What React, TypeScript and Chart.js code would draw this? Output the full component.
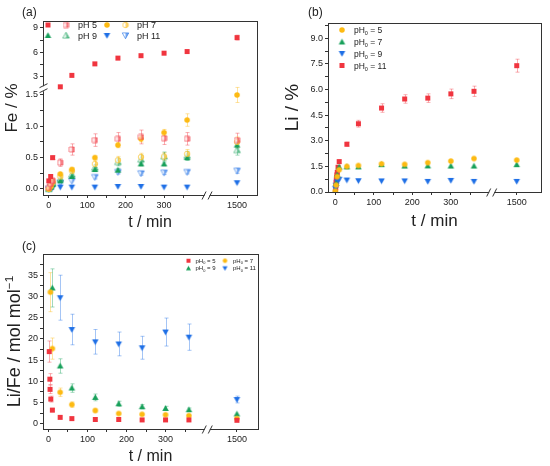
import React, { useEffect, useRef } from 'react';
import { Chart, ChartConfiguration, registerables } from 'chart.js';

Chart.register(...registerables);

const FONT = "'Liberation Sans', Arial, sans-serif";
Chart.defaults.font.family = FONT;
Chart.defaults.color = '#222';

const AXIS = '#333';
const RED = '#F0353F';
const YELLOW = '#FDBA12';
const GREEN = '#17A05A';
const BLUE = '#1E6FE6';
const errOf = (c: string) => c + '66';

// ---------- shared axis ticks ----------
const timeTicks = [0, 100, 200, 300, 1500];
const timeMinor = [50, 150, 250, 350];

// ---------- (a) Fe / % ----------
const feTime = [0, 5, 10, 30, 60, 120, 180, 240, 300, 360, 1500];
const fePH5 = [0.13, 0.2, 0.5, 1.8, 3.2, 4.6, 5.3, 5.6, 5.9, 6.1, 7.8];
const fePH5Err = [0.01, 0.02, 0.03, 0.1, 0.1, 0.15, 0.15, 0.15, 0.15, 0.15, 0.3];
const fePH5Half = [0.02, 0.08, 0.13, 0.42, 0.63, 0.78, 0.8, 0.83, 0.81, 0.8, 0.78];
const fePH5HalfErr = [0.01, 0.02, 0.03, 0.06, 0.09, 0.1, 0.1, 0.11, 0.1, 0.1, 0.11];
const fePH7 = [0.0, 0.05, 0.12, 0.24, 0.31, 0.5, 0.7, 0.8, 0.9, 1.1, 1.5];
const fePH7Err = [0, 0.01, 0.02, 0.02, 0.03, 0.03, 0.04, 0.05, 0.05, 0.1, 0.12];
const fePH7Half = [0.0, 0.04, 0.1, 0.2, 0.29, 0.4, 0.46, 0.51, 0.52, 0.56, 0.75];
const fePH7HalfErr = [0, 0.01, 0.02, 0.03, 0.04, 0.05, 0.06, 0.06, 0.06, 0.07, 0.08];
const fePH9 = [0.0, 0.03, 0.07, 0.13, 0.2, 0.31, 0.3, 0.4, 0.4, 0.5, 0.7];
const fePH9Err = [0, 0.01, 0.01, 0.02, 0.02, 0.03, 0.03, 0.03, 0.03, 0.04, 0.05];
const fePH9Half = [0.0, 0.04, 0.09, 0.16, 0.23, 0.34, 0.43, 0.47, 0.52, 0.53, 0.62];
const fePH9HalfErr = [0, 0.01, 0.02, 0.03, 0.04, 0.05, 0.06, 0.07, 0.07, 0.07, 0.08];
const fePH11 = [0.0, 0.01, 0.02, 0.03, 0.03, 0.03, 0.04, 0.04, 0.03, 0.03, 0.1];
const fePH11Err = [0, 0, 0, 0, 0, 0, 0, 0, 0, 0, 0.01];
const fePH11Half = [0.0, 0.03, 0.05, 0.1, 0.13, 0.19, 0.27, 0.25, 0.26, 0.27, 0.29];
const fePH11HalfErr = [0, 0.01, 0.01, 0.02, 0.02, 0.03, 0.03, 0.03, 0.03, 0.03, 0.04];
const feTicks = [0, 0.5, 1.0, 1.5, 3, 6, 9];
const feMinor = [0.25, 0.75, 1.25, 4.5, 7.5];

// ---------- (b) Li / % ----------
const liTimeFast = [0, 1, 1.5, 2, 2.5, 3, 4, 5, 7, 10, 30, 60, 120, 180, 240, 300, 360, 1500];
const liPH11 = [0, 0.25, 0.4, 0.55, 0.7, 0.85, 1.0, 1.15, 1.45, 1.78, 2.8, 4.0, 4.92, 5.45, 5.5, 5.75, 5.9, 7.4];
const liPH11Err = [0, 0.02, 0.03, 0.04, 0.05, 0.05, 0.06, 0.07, 0.08, 0.1, 0.12, 0.2, 0.25, 0.25, 0.25, 0.28, 0.3, 0.38];
const liTime = [0, 2, 5, 10, 30, 60, 120, 180, 240, 300, 360, 1500];
const liPH5 = [0.05, 0.4, 0.9, 1.3, 1.5, 1.55, 1.65, 1.62, 1.72, 1.81, 1.96, 1.87];
const liPH5Err = [0, 0.02, 0.04, 0.05, 0.05, 0.05, 0.06, 0.06, 0.06, 0.06, 0.07, 0.07];
const liPH7 = [0.05, 0.5, 1.0, 1.46, 1.47, 1.47, 1.6, 1.52, 1.53, 1.52, 1.52, 1.6];
const liPH7Err = [0, 0.02, 0.04, 0.05, 0.05, 0.05, 0.06, 0.06, 0.06, 0.06, 0.06, 0.07];
const liPH9 = [0.2, 0.4, 0.6, 0.75, 0.7, 0.66, 0.65, 0.65, 0.62, 0.68, 0.62, 0.62];
const liPH9Err = [0, 0.02, 0.03, 0.03, 0.03, 0.03, 0.03, 0.03, 0.03, 0.03, 0.03, 0.03];
const liTicks = [0, 1.5, 3.0, 4.5, 6.0, 7.5, 9.0];
const liMinor = [0.75, 2.25, 3.75, 5.25, 6.75, 8.25, 9.75];

// ---------- (c) Li/Fe ratio ----------
const ratioTime5 = [2, 3.5, 4, 6, 10, 30, 60, 120, 180, 240, 300, 360, 1500];
const ratioPH5 = [17, 10.5, 8.1, 5.8, 3.2, 1.5, 1.2, 1.0, 1.0, 0.9, 0.9, 0.9, 0.8];
const ratioPH5Err = [2.5, 1.3, 1.0, 0.7, 0.4, 0.2, 0.15, 0.1, 0.1, 0.1, 0.1, 0.1, 0.1];
const ratioTime7 = [5, 10, 30, 60, 120, 180, 240, 300, 360, 1500];
const ratioPH7 = [31, 17.7, 7.4, 4.5, 3.1, 2.4, 2.2, 2.1, 1.9, 1.2];
const ratioPH7Err = [4.6, 2.5, 1.0, 0.6, 0.4, 0.3, 0.3, 0.3, 0.25, 0.2];
const ratioTime9 = [10, 30, 60, 120, 180, 240, 300, 360, 1500];
const ratioPH9 = [32, 13.6, 8.4, 6.2, 4.7, 4.0, 3.6, 3.3, 2.3];
const ratioPH9Err = [4.5, 1.7, 1.0, 0.8, 0.6, 0.5, 0.5, 0.4, 0.3];
const ratioTime11 = [30, 60, 120, 180, 240, 300, 360, 1500];
const ratioPH11 = [29.7, 22.2, 19.3, 18.8, 17.9, 21.6, 20.4, 5.7];
const ratioPH11Err = [5.3, 3.6, 2.9, 2.8, 2.7, 3.3, 3.1, 0.8];
const ratioTicks = [0, 5, 10, 15, 20, 25, 30, 35];
const ratioMinor = [2.5, 7.5, 12.5, 17.5, 22.5, 27.5, 32.5, 37.5];

// ---------- markers ----------
type Shape = 'square' | 'circle' | 'up' | 'down';
function marker(shape: Shape, color: string, size: number, half = false) {
  const W = Math.ceil(size) + 2;
  const c = document.createElement('canvas');
  c.width = W;
  c.height = W;
  const g = c.getContext('2d')!;
  const m = W / 2;
  const h = size / 2;
  const path = () => {
    g.beginPath();
    if (shape === 'square') g.rect(m - h, m - h, size, size);
    else if (shape === 'circle') g.arc(m, m, h, 0, Math.PI * 2);
    else if (shape === 'up') {
      g.moveTo(m, m - h);
      g.lineTo(m + h, m + h * 0.8);
      g.lineTo(m - h, m + h * 0.8);
      g.closePath();
    } else {
      g.moveTo(m, m + h);
      g.lineTo(m + h, m - h * 0.8);
      g.lineTo(m - h, m - h * 0.8);
      g.closePath();
    }
  };
  if (!half) {
    path();
    g.fillStyle = color;
    g.fill();
  } else {
    g.globalAlpha = 0.6;
    path();
    g.fillStyle = '#fff';
    g.fill();
    g.save();
    path();
    g.clip();
    g.fillStyle = color;
    g.fillRect(m, 0, W, W);
    g.restore();
    path();
    g.strokeStyle = color;
    g.lineWidth = 1;
    g.stroke();
  }
  return c;
}

const mk = {
  sq: marker('square', RED, 5),
  sqH: marker('square', RED, 5, true),
  ci: marker('circle', YELLOW, 5.5),
  ciH: marker('circle', YELLOW, 5.5, true),
  up: marker('up', GREEN, 6.5),
  upH: marker('up', GREEN, 6.5, true),
  dn: marker('down', BLUE, 6.5),
  dnH: marker('down', BLUE, 6.5, true),
  sqS: marker('square', RED, 4),
  ciS: marker('circle', YELLOW, 4.5),
  upS: marker('up', GREEN, 5),
  dnS: marker('down', BLUE, 5),
};

// ---------- broken axis helpers ----------
const breakX = (at1500: number) => (t: number) => (t > 1000 ? at1500 + (t - 1500) * 0.1 : t);
const feY = (v: number) => (v <= 1.5 ? v : 2.572 - (9 - v) * 0.1308);
const feSeg = (v: number) => (v <= 1.5 ? 1 : 0.1308);
const same = (v: number) => v;
const one = () => 1;

function series(ts: number[], vs: number[], es: number[], img: HTMLCanvasElement, errColor: string,
  fx: (t: number) => number, fy = same, fs: (v: number) => number = one) {
  return {
    data: ts.map((t, i) => ({ x: fx(t), y: fy(vs[i]), e: es[i], s: fs(vs[i]) })),
    pointStyle: img,
    pointRadius: 3.5,
    showLine: false,
    errColor,
  };
}

type Part = { t: string; sub?: boolean; sup?: boolean };
type LegendRow = { marks: { img: HTMLCanvasElement; x: number }[]; tx: number; y: number; text: Part[] };
type Deco = {
  label: string; labelX: number; labelY: number;
  yTitle: Part[]; yTitleSize: number; yTitleX: number;
  xTitle: Part[]; xTitleSize: number; xTitleY: number;
  legend: LegendRow[]; legendSize: number;
  xBreak: number; yBreak?: number;
};

function drawParts(ctx: CanvasRenderingContext2D, parts: Part[], x: number, y: number, size: number, center: boolean) {
  const sz = (p: Part) => (p.sub || p.sup ? size * 0.65 : size);
  const widths = parts.map((p) => {
    ctx.font = `${sz(p)}px ${FONT}`;
    return ctx.measureText(p.t).width;
  });
  let cx = center ? x - widths.reduce((a, b) => a + b, 0) / 2 : x;
  parts.forEach((p, i) => {
    ctx.font = `${sz(p)}px ${FONT}`;
    const dy = p.sub ? size * 0.25 : p.sup ? -size * 0.4 : 0;
    ctx.fillText(p.t, cx, y + dy);
    cx += widths[i];
  });
}

function decoPlugin(d: Deco) {
  return {
    id: 'deco',
    beforeDatasetsDraw(chart: any) {
      const { ctx, chartArea: a } = chart;
      ctx.save();
      ctx.strokeStyle = AXIS;
      ctx.lineWidth = 1;
      const l = Math.round(a.left) + 0.5;
      const t = Math.round(a.top) + 0.5;
      ctx.strokeRect(l, t, Math.round(a.right) - Math.round(a.left), Math.round(a.bottom) - Math.round(a.top));
      const ys = chart.scales.y;
      chart.data.datasets.forEach((ds: any, di: number) => {
        const meta = chart.getDatasetMeta(di);
        ctx.strokeStyle = ds.errColor;
        ds.data.forEach((p: any, i: number) => {
          if (!p.e) return;
          const el = meta.data[i];
          const x = Math.round(el.x) + 0.5;
          const y1 = ys.getPixelForValue(p.y + p.e * p.s);
          const y2 = ys.getPixelForValue(p.y - p.e * p.s);
          if (Math.abs(y2 - y1) < 3) return;
          ctx.beginPath();
          ctx.moveTo(x, y1);
          ctx.lineTo(x, y2);
          ctx.moveTo(x - 2, y1);
          ctx.lineTo(x + 2, y1);
          ctx.moveTo(x - 2, y2);
          ctx.lineTo(x + 2, y2);
          ctx.stroke();
        });
      });
      ctx.restore();
    },
    afterDraw(chart: any) {
      const { ctx, chartArea: a } = chart;
      ctx.save();
      // axis breaks
      const bx = chart.scales.x.getPixelForValue(d.xBreak);
      const by = Math.round(a.bottom) + 0.5;
      ctx.fillStyle = '#fff';
      ctx.fillRect(bx - 2.5, by - 2, 5, 4);
      ctx.strokeStyle = AXIS;
      ctx.lineWidth = 1;
      ctx.beginPath();
      ctx.moveTo(bx - 5, by + 4);
      ctx.lineTo(bx - 1, by - 4);
      ctx.moveTo(bx + 1, by + 4);
      ctx.lineTo(bx + 5, by - 4);
      ctx.stroke();
      if (d.yBreak !== undefined) {
        const py = chart.scales.y.getPixelForValue(d.yBreak);
        const lx = Math.round(a.left) + 0.5;
        ctx.fillRect(lx - 2, py - 2.5, 4, 5);
        ctx.beginPath();
        ctx.moveTo(lx - 4, py - 1);
        ctx.lineTo(lx + 4, py - 5);
        ctx.moveTo(lx - 4, py + 4);
        ctx.lineTo(lx + 4, py);
        ctx.stroke();
      }
      ctx.fillStyle = '#222';
      ctx.textBaseline = 'alphabetic';
      // panel label
      ctx.font = `12px ${FONT}`;
      ctx.fillText(d.label, d.labelX, d.labelY);
      // axis titles
      drawParts(ctx, d.xTitle, (a.left + a.right) / 2, d.xTitleY, d.xTitleSize, true);
      ctx.save();
      ctx.translate(d.yTitleX, (a.top + a.bottom) / 2);
      ctx.rotate(-Math.PI / 2);
      drawParts(ctx, d.yTitle, 0, d.yTitleSize * 0.36, d.yTitleSize, true);
      ctx.restore();
      // legend
      d.legend.forEach((row) => {
        row.marks.forEach((m) => ctx.drawImage(m.img, m.x - m.img.width / 2, row.y - m.img.height / 2));
        drawParts(ctx, row.text, row.tx, row.y + d.legendSize * 0.36, d.legendSize, false);
      });
      ctx.restore();
    },
  };
}

type Panel = {
  datasets: any[];
  fx: (t: number) => number;
  fy: (v: number) => number;
  xMin: number; xMax: number; yMin: number; yMax: number;
  yMajor: number[]; yMinor: number[]; yFmt: (v: number) => string;
  padTop: number; padRight: number; yWidth: number; xHeight: number;
  deco: Deco;
};

function tickList(major: number[], minor: number[], fmt: (v: number) => string) {
  return [...major.map((v) => ({ v, label: fmt(v) })), ...minor.map((v) => ({ v, label: '' }))].sort((p, q) => p.v - q.v);
}

function buildConfig(p: Panel): ChartConfiguration {
  const xt = tickList(timeTicks, timeMinor, (v) => String(v));
  const yt = tickList(p.yMajor, p.yMinor, p.yFmt);
  const grid = { display: true, drawOnChartArea: false, drawTicks: true, tickLength: 3, color: AXIS, lineWidth: 1 };
  return {
    type: 'scatter',
    data: { datasets: p.datasets },
    options: {
      responsive: false,
      animation: false,
      events: [],
      layout: { padding: { top: p.padTop, right: p.padRight, left: 0, bottom: 0 } },
      plugins: { legend: { display: false }, tooltip: { enabled: false } },
      scales: {
        x: {
          type: 'linear',
          min: p.xMin,
          max: p.xMax,
          grid,
          border: { display: false },
          afterBuildTicks: (s: any) => { s.ticks = xt.map((t) => ({ value: p.fx(t.v) })); },
          afterFit: (s: any) => { s.height = p.xHeight; },
          ticks: { autoSkip: false, maxRotation: 0, padding: 2, font: { size: 9 }, color: '#222', callback: (_v: any, i: number) => xt[i].label },
        },
        y: {
          type: 'linear',
          min: p.yMin,
          max: p.yMax,
          grid,
          border: { display: false },
          afterBuildTicks: (s: any) => { s.ticks = yt.map((t) => ({ value: p.fy(t.v) })); },
          afterFit: (s: any) => { s.width = p.yWidth; },
          ticks: { autoSkip: false, padding: 2, font: { size: 9 }, color: '#222', callback: (_v: any, i: number) => yt[i].label },
        },
      },
    } as any,
    plugins: [decoPlugin(p.deco)],
  } as ChartConfiguration;
}

const pH0 = (n: string): Part[] => [{ t: 'pH' }, { t: '0', sub: true }, { t: ' = ' + n }];

// ---------- panel specs ----------
const fxA = breakX(490);
const panelA: Panel = {
  datasets: [
    series(feTime, fePH5, fePH5Err, mk.sq, errOf(RED), fxA, feY, feSeg),
    series(feTime, fePH5Half, fePH5HalfErr, mk.sqH, errOf(RED), fxA, feY, feSeg),
    series(feTime, fePH7, fePH7Err, mk.ci, errOf(YELLOW), fxA, feY, feSeg),
    series(feTime, fePH7Half, fePH7HalfErr, mk.ciH, errOf(YELLOW), fxA, feY, feSeg),
    series(feTime, fePH9, fePH9Err, mk.up, errOf(GREEN), fxA, feY, feSeg),
    series(feTime, fePH9Half, fePH9HalfErr, mk.upH, errOf(GREEN), fxA, feY, feSeg),
    series(feTime, fePH11, fePH11Err, mk.dn, errOf(BLUE), fxA, feY, feSeg),
    series(feTime, fePH11Half, fePH11HalfErr, mk.dnH, errOf(BLUE), fxA, feY, feSeg),
  ],
  fx: fxA,
  fy: feY,
  xMin: -15, xMax: 542, yMin: -0.096, yMax: 2.68,
  yMajor: feTicks, yMinor: feMinor, yFmt: (v) => (v <= 1.5 ? v.toFixed(1) : String(v)),
  padTop: 21, padRight: 18, yWidth: 43, xHeight: 35,
  deco: {
    label: '(a)', labelX: 22, labelY: 16,
    yTitle: [{ t: 'Fe / %' }], yTitleSize: 17, yTitleX: 11,
    xTitle: [{ t: 't / min' }], xTitleSize: 16, xTitleY: 227,
    legendSize: 9,
    legend: [
      { marks: [{ img: mk.sq, x: 48 }, { img: mk.sqH, x: 66 }], tx: 78, y: 25, text: [{ t: 'pH 5' }] },
      { marks: [{ img: mk.ci, x: 107 }, { img: mk.ciH, x: 125.5 }], tx: 137, y: 25, text: [{ t: 'pH 7' }] },
      { marks: [{ img: mk.up, x: 48 }, { img: mk.upH, x: 66 }], tx: 78, y: 35.5, text: [{ t: 'pH 9' }] },
      { marks: [{ img: mk.dn, x: 107 }, { img: mk.dnH, x: 125.5 }], tx: 137, y: 35.5, text: [{ t: 'pH 11' }] },
    ],
    xBreak: 412,
    yBreak: 1.6,
  },
};

const fxB = breakX(471);
const panelB: Panel = {
  datasets: [
    series(liTime, liPH5, liPH5Err, mk.ci, errOf(YELLOW), fxB),
    series(liTime, liPH7, liPH7Err, mk.up, errOf(GREEN), fxB),
    series(liTime, liPH9, liPH9Err, mk.dn, errOf(BLUE), fxB),
    series(liTimeFast, liPH11, liPH11Err, mk.sq, errOf(RED), fxB),
  ],
  fx: fxB,
  fy: same,
  xMin: -19, xMax: 534, yMin: 0, yMax: 9.9,
  yMajor: liTicks, yMinor: liMinor, yFmt: (v) => v.toFixed(1),
  padTop: 23, padRight: 9, yWidth: 53, xHeight: 38,
  deco: {
    label: '(b)', labelX: 33, labelY: 16,
    yTitle: [{ t: 'Li / %' }], yTitleSize: 19, yTitleX: 16,
    xTitle: [{ t: 't / min' }], xTitleSize: 17, xTitleY: 226,
    legendSize: 8.5,
    legend: [
      { marks: [{ img: mk.ci, x: 67 }], tx: 79, y: 30, text: pH0('5') },
      { marks: [{ img: mk.up, x: 67 }], tx: 79, y: 42, text: pH0('7') },
      { marks: [{ img: mk.dn, x: 67 }], tx: 79, y: 53.5, text: pH0('9') },
      { marks: [{ img: mk.sq, x: 67 }], tx: 79, y: 65.5, text: pH0('11') },
    ],
    xBreak: 406,
  },
};

const fxC = breakX(483);
const panelC: Panel = {
  datasets: [
    series(ratioTime5, ratioPH5, ratioPH5Err, mk.sq, errOf(RED), fxC),
    series(ratioTime7, ratioPH7, ratioPH7Err, mk.ci, errOf(YELLOW), fxC),
    series(ratioTime9, ratioPH9, ratioPH9Err, mk.up, errOf(GREEN), fxC),
    series(ratioTime11, ratioPH11, ratioPH11Err, mk.dn, errOf(BLUE), fxC),
  ],
  fx: fxC,
  fy: same,
  xMin: -14, xMax: 537, yMin: -1.25, yMax: 40,
  yMajor: ratioTicks, yMinor: ratioMinor, yFmt: (v) => String(v),
  padTop: 24, padRight: 17, yWidth: 43, xHeight: 37,
  deco: {
    label: '(c)', labelX: 22, labelY: 20,
    yTitle: [{ t: 'Li/Fe / mol mol' }, { t: '−1', sup: true }], yTitleSize: 18, yTitleX: 14,
    xTitle: [{ t: 't / min' }], xTitleSize: 16, xTitleY: 231,
    legendSize: 6,
    legend: [
      { marks: [{ img: mk.sqS, x: 188.5 }], tx: 195.5, y: 30.7, text: pH0('5') },
      { marks: [{ img: mk.ciS, x: 225 }], tx: 233, y: 30.7, text: pH0('7') },
      { marks: [{ img: mk.upS, x: 188.5 }], tx: 195.5, y: 38.3, text: pH0('9') },
      { marks: [{ img: mk.dnS, x: 225 }], tx: 233, y: 38.3, text: pH0('11') },
    ],
    xBreak: 407,
  },
};

function PanelChart({ spec, left, top, width, height }: { spec: Panel; left: number; top: number; width: number; height: number }) {
  const canvasRef = useRef<HTMLCanvasElement>(null);
  useEffect(() => {
    if (!canvasRef.current) return;
    const chart = new Chart(canvasRef.current, buildConfig(spec));
    return () => chart.destroy();
  }, [spec]);
  return <canvas ref={canvasRef} width={width} height={height} style={{ position: 'absolute', left, top, width, height }} />;
}

export default function App() {
  return (
    <div style={{ position: 'absolute', left: 0, top: 0, width: 550, height: 466, background: '#fff' }}>
      <PanelChart spec={panelA} left={0} top={0} width={275} height={230} />
      <PanelChart spec={panelB} left={275} top={0} width={275} height={230} />
      <PanelChart spec={panelC} left={0} top={230} width={275} height={236} />
    </div>
  );
}
